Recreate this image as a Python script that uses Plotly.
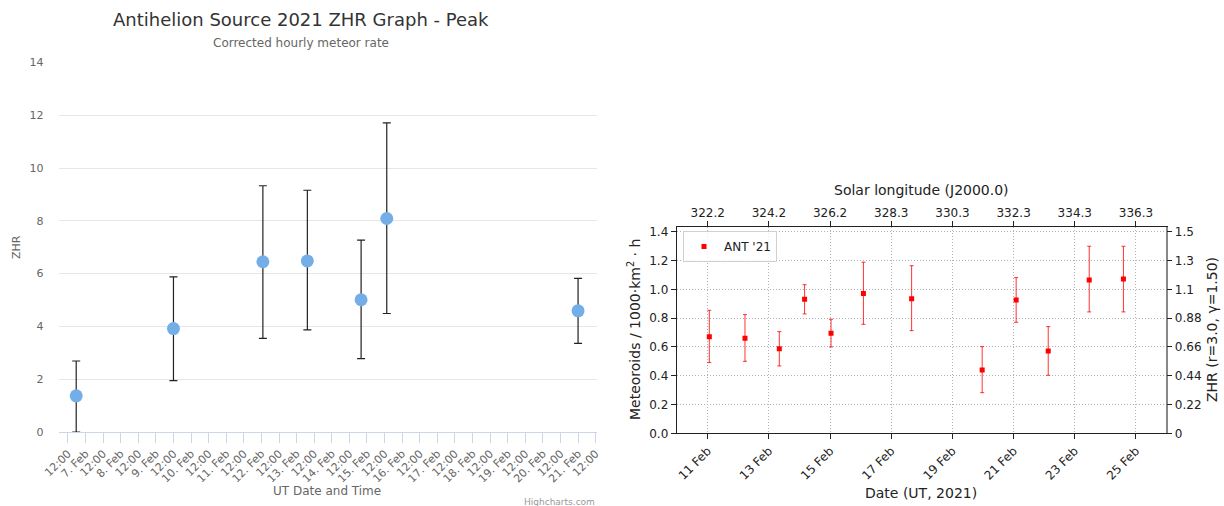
import plotly.graph_objects as go
import pandas as pd

# ---------------- Left panel (Highcharts style) ----------------
zhr_times = ["2021-02-06 17:40", "2021-02-09 12:00", "2021-02-12 01:00",
             "2021-02-13 07:20", "2021-02-14 20:00", "2021-02-15 13:30",
             "2021-02-21 00:00"]
zhr_values = [1.37, 3.92, 6.45, 6.48, 5.01, 8.09, 4.59]
zhr_low = [0.0, 1.95, 3.55, 3.87, 2.78, 4.49, 3.36]
zhr_high = [2.69, 5.88, 9.33, 9.16, 7.27, 11.71, 5.82]

left_tick_times = list(pd.date_range("2021-02-06 12:00", "2021-02-21 12:00", freq="12h"))
left_tick_labels = ["12:00" if t.hour == 12 else f"{t.day}. Feb" for t in left_tick_times]
left_yticks = [0, 2, 4, 6, 8, 10, 12, 14]

# ---------------- Right panel (matplotlib style) ----------------
ant_times = ["2021-02-11 01:15", "2021-02-12 05:15", "2021-02-13 08:10",
             "2021-02-14 04:00", "2021-02-15 00:45", "2021-02-16 02:10",
             "2021-02-17 16:00", "2021-02-19 23:20", "2021-02-21 02:00",
             "2021-02-22 03:10", "2021-02-23 11:20", "2021-02-24 14:10"]
ant_values = [0.671, 0.660, 0.588, 0.931, 0.694, 0.970, 0.935, 0.440, 0.926, 0.572, 1.065, 1.072]
ant_low = [0.491, 0.500, 0.468, 0.829, 0.600, 0.757, 0.713, 0.282, 0.771, 0.403, 0.843, 0.843]
ant_high = [0.854, 0.824, 0.706, 1.032, 0.792, 1.188, 1.164, 0.602, 1.081, 0.741, 1.299, 1.299]

date_ticks = ["2021-02-11", "2021-02-13", "2021-02-15", "2021-02-17",
              "2021-02-19", "2021-02-21", "2021-02-23", "2021-02-25"]
date_labels = ["11 Feb", "13 Feb", "15 Feb", "17 Feb", "19 Feb", "21 Feb", "23 Feb", "25 Feb"]
solar_longitudes = ["322.2", "324.2", "326.2", "328.3", "330.3", "332.3", "334.3", "336.3"]
meteoroid_ticks = [0.0, 0.2, 0.4, 0.6, 0.8, 1.0, 1.2, 1.4]
zhr_right_labels = ["0", "0.22", "0.44", "0.66", "0.88", "1.1", "1.3", "1.5"]

W, H = 1224, 506
def px(x):
    return x / W
def py(y):
    return 1 - y / H

fig = go.Figure()

# Left: scatter with error bars
fig.add_trace(go.Scatter(
    x=zhr_times, y=zhr_values, mode="markers",
    marker=dict(size=13, color="#74aee8"),
    error_y=dict(type="data", symmetric=False,
                 array=[h - v for h, v in zip(zhr_high, zhr_values)],
                 arrayminus=[v - l for v, l in zip(zhr_values, zhr_low)],
                 color="#222222", thickness=1.2, width=4),
    xaxis="x", yaxis="y", showlegend=False))

# Right: ANT '21
fig.add_trace(go.Scatter(
    x=ant_times, y=ant_values, mode="markers", name="ANT '21",
    marker=dict(size=5, color="red", symbol="square"),
    error_y=dict(type="data", symmetric=False,
                 array=[h - v for h, v in zip(ant_high, ant_values)],
                 arrayminus=[v - l for v, l in zip(ant_values, ant_low)],
                 color="rgba(255,0,0,0.8)", thickness=1, width=2),
    xaxis="x2", yaxis="y2", showlegend=True))

# dummy trace for the overlay axes
fig.add_trace(go.Scatter(x=[None], y=[None], xaxis="x3", yaxis="y3",
                         showlegend=False, hoverinfo="skip", mode="markers"))

left_font = "DejaVu Sans, Verdana, sans-serif"
mpl_font = "DejaVu Sans, sans-serif"
grid_dash = "1px,2px"

fig.update_layout(
    width=W, height=H,
    margin=dict(l=0, r=0, t=0, b=0),
    paper_bgcolor="white", plot_bgcolor="white",
    showlegend=True,
    xaxis=dict(
        domain=[px(58.5), px(597)], anchor="y", type="date",
        range=["2021-02-06 05:35", "2021-02-21 12:55"],
        tickvals=left_tick_times, ticktext=left_tick_labels, tickangle=-45,
        tickfont=dict(family=left_font, size=11, color="#666666"),
        showline=True, linecolor="#ccd6eb", linewidth=1,
        ticks="outside", ticklen=10, tickcolor="#ccd6eb",
        showgrid=False, zeroline=False, automargin=False,
    ),
    yaxis=dict(
        domain=[py(432), py(62.5)], anchor="x",
        range=[0, 14], tickvals=left_yticks,
        tickfont=dict(family=left_font, size=11, color="#666666"),
        showgrid=True, gridcolor="#e6e6e6", gridwidth=1,
        showline=False, zeroline=False, ticks="", ticklabelstandoff=14,
        automargin=False,
    ),
    xaxis2=dict(
        domain=[px(676.7), px(1165.7)], anchor="y2", type="date",
        range=["2021-02-09 23:40", "2021-02-25 23:20"],
        tickvals=date_ticks, ticktext=date_labels, tickangle=-45,
        tickfont=dict(family=mpl_font, size=12, color="#222222"),
        showline=True, linecolor="#222222", linewidth=1, mirror=False,
        ticks="outside", ticklen=5, tickcolor="#222222",
        showgrid=True, gridcolor="#b0b0b0", griddash=grid_dash, gridwidth=1,
        zeroline=False, automargin=False,
    ),
    xaxis3=dict(
        overlaying="x2", anchor="y2", side="top", type="date",
        range=["2021-02-09 23:40", "2021-02-25 23:20"],
        tickvals=date_ticks, ticktext=solar_longitudes,
        tickfont=dict(family=mpl_font, size=12, color="#222222"),
        showline=True, linecolor="#222222", linewidth=1,
        ticks="outside", ticklen=5, tickcolor="#222222",
        showgrid=False, zeroline=False, automargin=False,
    ),
    yaxis2=dict(
        domain=[py(433.3), py(227.3)], anchor="x2",
        range=[0, 1.4306], tickvals=meteoroid_ticks, tickformat=".1f",
        tickfont=dict(family=mpl_font, size=12, color="#222222"),
        showline=True, linecolor="#222222", linewidth=1,
        ticks="outside", ticklen=5, tickcolor="#222222",
        showgrid=True, gridcolor="#b0b0b0", griddash=grid_dash, gridwidth=1,
        zeroline=False, automargin=False,
    ),
    yaxis3=dict(
        overlaying="y2", anchor="x2", side="right",
        range=[0, 1.4306], tickvals=meteoroid_ticks, ticktext=zhr_right_labels,
        tickfont=dict(family=mpl_font, size=12, color="#222222"),
        showline=True, linecolor="#888888", linewidth=1.5,
        ticks="outside", ticklen=5, tickcolor="#222222",
        showgrid=False, zeroline=False, automargin=False,
    ),
    legend=dict(
        x=px(683), y=py(231), xanchor="left", yanchor="top",
        bgcolor="rgba(255,255,255,0.8)", bordercolor="#d0d0d0", borderwidth=1,
        font=dict(family=mpl_font, size=12, color="#222222"),
        itemwidth=30,
    ),
)

annotations = [
    dict(text="Antihelion Source 2021 ZHR Graph - Peak", x=px(301), y=py(20),
         font=dict(family=left_font, size=18, color="#333333")),
    dict(text="Corrected hourly meteor rate", x=px(301), y=py(43),
         font=dict(family=left_font, size=12, color="#666666")),
    dict(text="ZHR", x=px(16), y=py(247), textangle=-90,
         font=dict(family=left_font, size=11, color="#666666")),
    dict(text="UT Date and Time", x=px(327), y=py(491),
         font=dict(family=left_font, size=12, color="#666666")),
    dict(text="Highcharts.com", x=px(597), y=py(502), xanchor="right",
         font=dict(family=left_font, size=9, color="#999999")),
    dict(text="Solar longitude (J2000.0)", x=px(921), y=py(190),
         font=dict(family=mpl_font, size=14, color="#222222")),
    dict(text="Meteoroids / 1000·km<sup>2</sup> · h", x=px(634), y=py(330), textangle=-90,
         font=dict(family=mpl_font, size=14, color="#222222")),
    dict(text="ZHR (r=3.0, γ=1.50)", x=px(1212), y=py(330), textangle=-90,
         font=dict(family=mpl_font, size=14, color="#222222")),
    dict(text="Date (UT, 2021)", x=px(921), y=py(493),
         font=dict(family=mpl_font, size=14, color="#222222")),
]
for a in annotations:
    a.setdefault("xanchor", "center")
    a.update(xref="paper", yref="paper", showarrow=False, yanchor="middle")
fig.update_layout(annotations=annotations)

fig.write_html("out.html", config={"displayModeBar": False})
